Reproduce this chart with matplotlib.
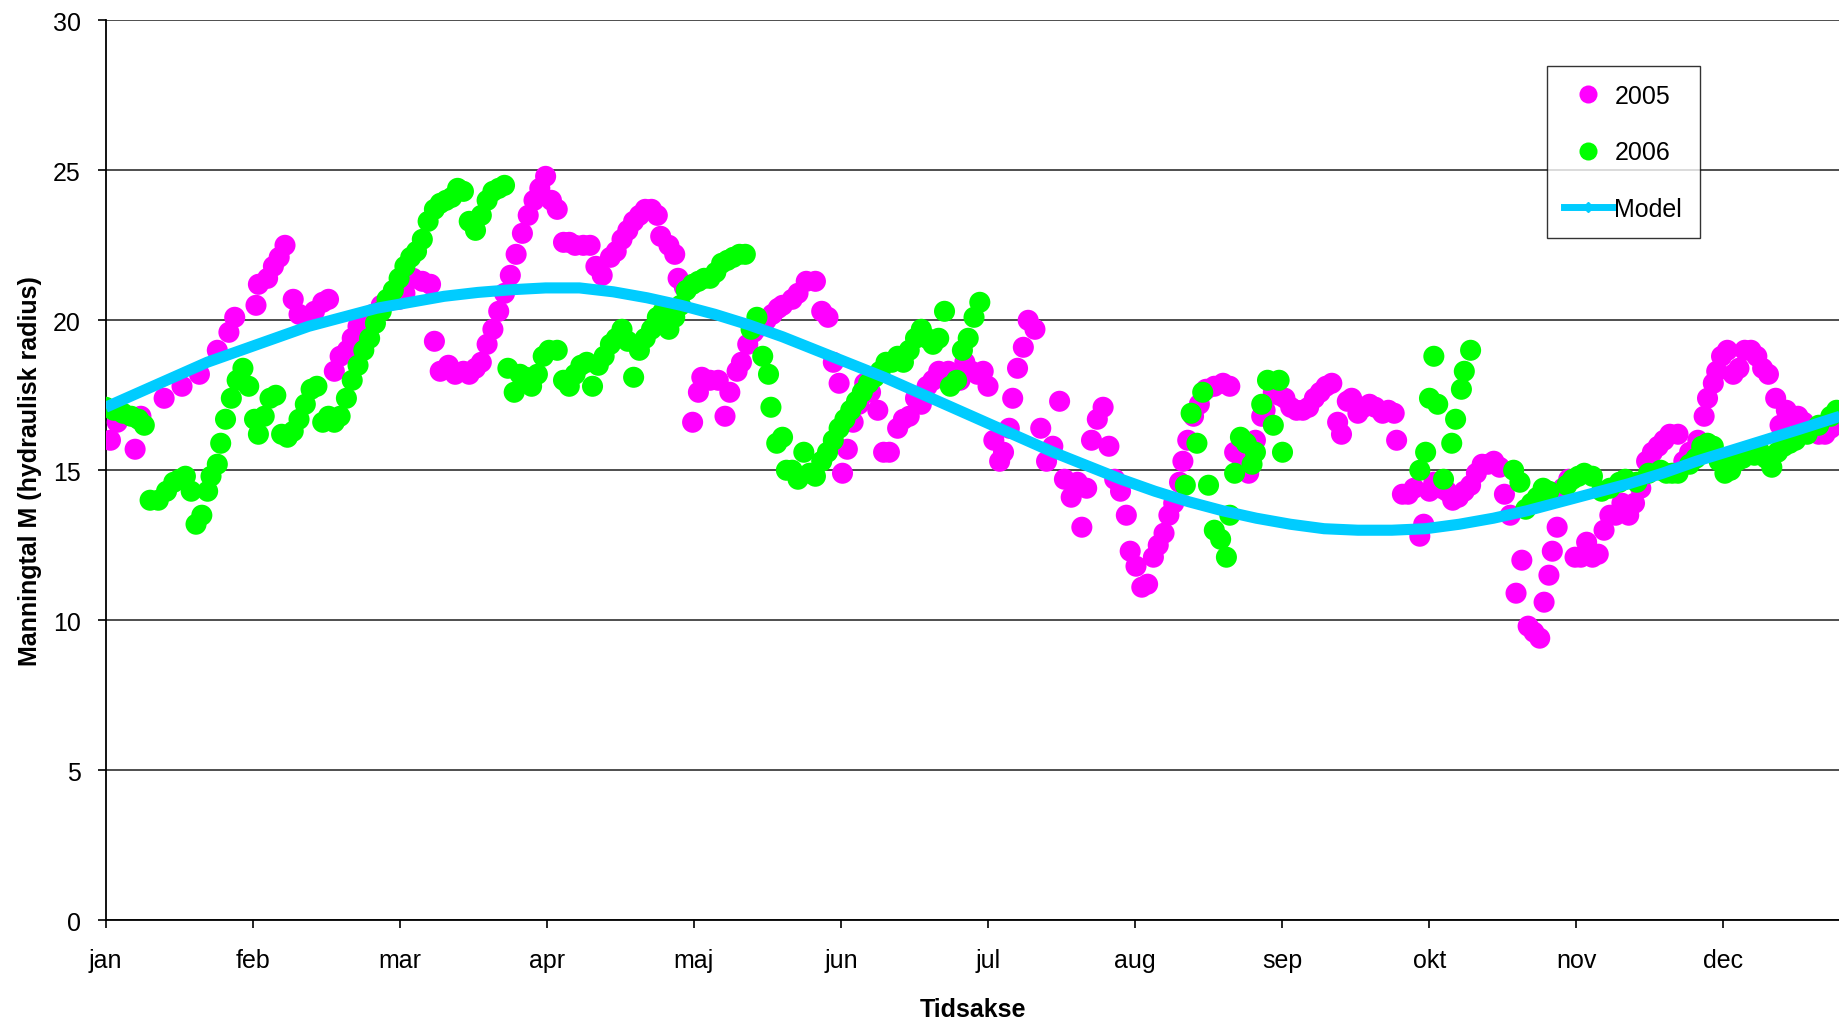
import numpy as np
import matplotlib
matplotlib.use("Agg")
import matplotlib.pyplot as plt
from matplotlib.lines import Line2D

plt.rcParams['font.family'] = ['Liberation Sans', 'DejaVu Sans']

# month labels (Danish)
months = ["jan", "feb", "mar", "apr", "maj", "jun", "jul", "aug", "sep", "okt", "nov", "dec"]

# 2005 observations: day of year, Manning number
day_2005 = [1, 2.4, 6.1, 7.3, 12.1, 15.8, 19.4, 23.1, 25.5, 26.7, 31.1, 31.6, 33.5, 34.7, 35.9, 37.1,
            38.8, 40.0, 41.7, 43.2, 44.9, 46.1, 47.3, 48.5, 50.0, 51.0, 52.2, 53.4, 55.3, 57.0, 58.7,
            60.7, 61.9, 63.6, 65.5, 67.2, 68.0, 69.2, 70.9, 72.3, 74.0, 75.2, 76.5, 77.7, 78.9, 80.1,
            81.3, 82.5, 83.7, 84.9, 86.2, 87.4, 88.6, 89.8, 91.0, 92.2, 93.4, 94.7, 95.9, 97.1, 98.8,
            100.2, 101.4, 102.7, 104.4, 105.6, 106.8, 108.0, 109.2, 110.4, 111.6, 112.9, 114.1, 114.8,
            116.5, 117.7, 118.4, 119.7, 121.4, 122.6, 123.3, 125.0, 126.7, 128.1, 129.1, 130.6, 131.5,
            132.8, 134.0, 135.4, 136.6, 137.9, 139.1, 140.0, 142.0, 143.2, 144.9, 146.8, 148.1, 149.4,
            150.5, 151.7, 152.4, 153.4, 154.6, 155.8, 157.0, 158.2, 159.7, 160.9, 162.1, 163.8, 165.0,
            166.2, 167.5, 168.7, 169.9, 171.1, 172.3, 174.3, 175.2, 176.7, 177.7, 179.1, 180.3, 181.5,
            182.5, 183.7, 184.9, 185.7, 186.9, 187.6, 188.6, 189.8, 190.8, 192.2, 193.4, 194.6, 195.9,
            197.3, 198.3, 199.7, 201.0, 201.9, 202.9, 203.9, 205.1, 206.3, 207.5, 208.7, 209.9, 211.1,
            211.9, 213.1, 214.3, 215.5, 216.7, 217.7, 218.9, 219.9, 220.9, 222.1, 222.8, 223.8, 225.0,
            226.2, 227.6, 229.3, 231.1, 232.5, 233.5, 234.9, 236.4, 237.8, 239.1, 239.8, 241.5, 242.7,
            243.9, 245.1, 246.3, 247.6, 248.8, 250.0, 251.2, 252.4, 253.6, 254.8, 255.6, 256.8, 257.7,
            259.0, 260.2, 261.4, 262.6, 264.1, 265.3, 266.5, 267.0, 268.2, 269.4, 270.6, 271.8, 272.6,
            273.8, 274.7, 276.2, 277.4, 278.6, 279.8, 281.0, 282.3, 283.5, 284.7, 285.9, 287.1, 288.3,
            289.3, 290.5, 291.7, 292.9, 294.2, 295.4, 296.6, 297.5, 298.5, 299.2, 300.2, 301.4, 302.6,
            303.9, 305.1, 306.3, 307.5, 308.7, 309.9, 311.1, 312.3, 313.6, 315.0, 316.2, 317.5, 318.7,
            319.9, 321.1, 322.3, 323.5, 325.2, 326.4, 327.6, 329.3, 330.6, 331.3, 332.5, 333.2, 334.2,
            335.4, 336.6, 337.8, 339.0, 340.3, 341.5, 342.7, 343.9, 345.4, 346.3, 347.6, 348.8, 350.0,
            351.2, 353.2, 354.3, 355.6, 356.8, 358.0]
m_2005 = [16.0, 16.6, 15.7, 16.8, 17.4, 17.8, 18.2, 19.0, 19.6, 20.1, 20.5, 21.2, 21.4, 21.8, 22.1, 22.5,
          20.7, 20.2, 20.0, 20.3, 20.6, 20.7, 18.3, 18.8, 19.0, 19.4, 19.8, 20.0, 20.2, 20.5, 20.7,
          20.7, 20.9, 21.4, 21.3, 21.2, 19.3, 18.3, 18.5, 18.2, 18.3, 18.2, 18.4, 18.6, 19.2, 19.7,
          20.3, 20.9, 21.5, 22.2, 22.9, 23.5, 24.0, 24.4, 24.8, 24.0, 23.7, 22.6, 22.6, 22.5, 22.5,
          22.5, 21.8, 21.5, 22.1, 22.3, 22.7, 23.0, 23.3, 23.5, 23.7, 23.7, 23.5, 22.8,
          22.5, 22.2, 21.4, 21.1, 16.6, 17.6, 18.1, 18.0, 18.0, 16.8, 17.6, 18.3, 18.6,
          19.2, 19.6, 19.8, 20.0, 20.2, 20.4, 20.5, 20.7, 20.9, 21.3, 21.3, 20.3, 20.1,
          18.6, 17.9, 14.9, 15.7, 16.6, 17.2, 17.9, 17.6, 17.0, 15.6, 15.6, 16.4, 16.7,
          16.8, 17.4, 17.2, 17.8, 18.0, 18.3, 18.3, 18.2, 18.0, 18.6, 18.3, 18.2, 18.3,
          17.8, 16.0, 15.3, 15.6, 16.4, 17.4, 18.4, 19.1, 20.0, 19.7, 16.4, 15.3, 15.8,
          17.3, 14.7, 14.1, 14.6, 13.1, 14.4, 16.0, 16.7, 17.1, 15.8, 14.7, 14.3, 13.5,
          12.3, 11.8, 11.1, 11.2, 12.1, 12.5, 12.9, 13.5, 13.9, 14.6, 15.3, 16.0, 16.8,
          17.2, 17.7, 17.8, 17.9, 17.8, 15.6, 15.4, 14.9, 16.0, 16.8, 17.0, 17.6, 17.5,
          17.4, 17.1, 17.0, 17.0, 17.1, 17.4, 17.6, 17.8, 17.9, 16.6, 16.2, 17.3, 17.4,
          16.9, 17.1, 17.2, 17.1, 16.9, 17.0, 16.9, 16.0, 14.2, 14.2, 14.4, 12.8, 13.2,
          14.3, 14.6, 14.4, 14.3, 14.0, 14.1, 14.3, 14.5, 14.9, 15.2, 15.2, 15.3, 15.1,
          14.2, 13.5, 10.9, 12.0, 9.8, 9.6, 9.4, 10.6, 11.5, 12.3, 13.1, 14.4, 14.7,
          12.1, 12.1, 12.6, 12.1, 12.2, 13.0, 13.5, 13.5, 13.9, 13.5, 13.9, 14.4, 15.3,
          15.6, 15.8, 16.0, 16.2, 16.2, 15.3, 15.6, 16.0, 16.8, 17.4, 17.9, 18.3, 18.8,
          19.0, 18.2, 18.4, 19.0, 19.0, 18.8, 18.4, 18.2, 17.4, 16.5, 17.0, 16.8, 16.8,
          16.6, 16.4, 16.2, 16.2, 16.4, 16.7]

# 2006 observations
day_2006 = [0.0, 1.7, 3.6, 5.3, 6.8, 8.0, 9.2, 10.9, 12.6, 14.1, 15.3, 16.5, 17.7, 18.7, 19.9, 21.1,
            21.8, 23.1, 23.8, 24.8, 26.0, 27.2, 28.4, 29.6, 30.8, 31.6, 32.8, 34.0, 35.2, 36.4, 37.6,
            38.8, 40.0, 41.3, 42.5, 43.7, 44.9, 46.1, 47.3, 48.5, 49.8, 51.0, 52.2, 53.4, 54.6, 55.8,
            57.0, 58.2, 59.5, 60.7, 61.9, 63.1, 64.3, 65.5, 66.7, 68.0, 69.2, 70.4, 71.6, 72.8, 74.0,
            75.2, 76.5, 77.7, 78.9, 80.1, 81.3, 82.5, 83.2, 84.5, 85.7, 86.9, 88.1, 89.3, 90.5, 91.7,
            93.4, 94.7, 95.9, 97.1, 98.3, 99.5, 100.7, 101.9, 103.1, 104.4, 105.6, 106.8, 108.0, 109.2,
            110.4, 111.6, 112.9, 114.1, 115.3, 116.5, 117.7, 118.9, 120.1, 121.4, 122.6, 123.8, 125.0,
            126.2, 127.4, 128.6, 129.8, 131.1, 132.3, 133.5, 134.7, 135.9, 137.1, 137.6, 138.8, 140.0,
            140.8, 142.0, 143.2, 144.4, 145.6, 146.8, 148.1, 149.3, 150.5, 151.7, 152.9, 154.1, 155.3,
            156.5, 157.8, 159.0, 160.2, 161.4, 162.6, 163.8, 165.0, 166.2, 167.5, 168.7, 169.9, 171.1,
            172.3, 173.5, 174.7, 176.0, 177.2, 178.4, 179.6, 180.8,
            223.3, 224.5, 225.7, 226.9, 228.1, 229.3, 230.6, 231.8, 232.5, 233.5, 234.7, 235.9, 237.1,
            237.8, 239.1, 240.3, 241.5, 242.7, 243.4,
            271.8, 273.0, 273.8, 274.7, 275.5, 276.7, 278.4, 279.2, 280.4, 281.0, 282.3,
            291.2, 292.5, 293.7, 294.9, 296.1, 297.3, 298.5, 302.2, 303.4, 304.6, 305.8, 307.5, 309.4,
            311.1, 313.1, 314.3, 316.7, 319.1, 321.6, 322.8, 324.0, 325.2, 327.6, 328.9, 330.1, 331.3,
            332.5, 333.7, 334.9, 336.1, 337.4, 338.6, 339.8, 341.0, 342.2, 343.4, 344.6, 345.8, 347.1,
            348.3, 349.5, 351.9, 354.3, 356.8, 358.0]
m_2006 = [17.1, 17.0, 16.9, 16.8, 16.7, 16.5, 14.0, 14.0, 14.3, 14.6, 14.7, 14.8, 14.3, 13.2, 13.5, 14.3,
          14.8, 15.2, 15.9, 16.7, 17.4, 18.0, 18.4, 17.8, 16.7, 16.2, 16.8, 17.4, 17.5, 16.2, 16.1,
          16.3, 16.7, 17.2, 17.7, 17.8, 16.6, 16.8, 16.6, 16.8, 17.4, 18.0, 18.5, 19.0, 19.4, 19.9,
          20.3, 20.7, 21.0, 21.4, 21.8, 22.1, 22.3, 22.7, 23.3, 23.7, 23.9, 24.0, 24.1, 24.4, 24.3,
          23.3, 23.0, 23.5, 24.0, 24.3, 24.4, 24.5, 18.4, 17.6, 18.2, 18.1, 17.8, 18.2, 18.8, 19.0,
          19.0, 18.0, 17.8, 18.2, 18.5, 18.6, 17.8, 18.5, 18.8, 19.2, 19.4, 19.7, 19.3, 18.1,
          19.0, 19.4, 19.7, 20.1, 20.3, 19.7, 20.1, 20.5, 21.0, 21.2, 21.3, 21.4, 21.4,
          21.6, 21.9, 22.0, 22.1, 22.2, 22.2, 19.7, 20.1, 18.8, 18.2, 17.1, 15.9, 16.1,
          15.0, 15.0, 14.7, 15.6, 14.9, 14.8, 15.3, 15.6, 16.0, 16.4, 16.7, 17.0, 17.3,
          17.6, 17.9, 18.1, 18.3, 18.6, 18.6, 18.8, 18.6, 19.0, 19.4, 19.7, 19.4, 19.2,
          19.4, 20.3, 17.8, 18.0, 19.0, 19.4, 20.1, 20.6,
          14.5, 16.9, 15.9, 17.6, 14.5, 13.0, 12.7, 12.1, 13.5, 14.9, 16.1, 15.9, 15.2,
          15.6, 17.2, 18.0, 16.5, 18.0, 15.6,
          15.0, 15.6, 17.4, 18.8, 17.2, 14.7, 15.9, 16.7, 17.7, 18.3, 19.0,
          15.0, 14.6, 13.7, 13.9, 14.1, 14.4, 14.3, 14.5, 14.7, 14.8, 14.9, 14.8, 14.3,
          14.4, 14.6, 14.7, 14.6, 14.9, 15.0, 14.9, 14.9, 14.9, 15.2, 15.4, 15.8, 15.9,
          15.8, 15.3, 14.9, 15.0, 15.3, 15.4, 15.6, 15.5, 15.6, 15.4, 15.1, 15.6, 15.8,
          15.9, 16.0, 16.2, 16.5, 16.8, 17.0]

# model curve, read weekly
day_model = [0, 7, 14, 21, 28, 35, 42, 49, 56, 63, 70, 77, 84, 91, 98, 105, 112, 119, 126, 133,
             140, 147, 154, 161, 168, 175, 182, 189, 196, 203, 210, 217, 224, 231, 238, 245, 252,
             259, 266, 273, 280, 287, 294, 301, 308, 315, 322, 329, 336, 343, 350, 358.7]
m_model = [17.1, 17.6, 18.1, 18.6, 19.0, 19.4, 19.8, 20.1, 20.4, 20.6, 20.8, 20.93, 21.02, 21.08,
           21.08, 20.95, 20.75, 20.5, 20.2, 19.85, 19.45, 19.0, 18.55, 18.1, 17.6, 17.1, 16.6, 16.1,
           15.6, 15.15, 14.7, 14.3, 13.95, 13.65, 13.4, 13.2, 13.05, 13.0, 13.0, 13.05, 13.2, 13.4,
           13.65, 13.95, 14.25, 14.55, 14.9, 15.3, 15.65, 16.0, 16.35, 16.8]

c05 = "#ff00ff"
c06 = "#00ff00"
cmod = "#00ccff"

fig = plt.figure(figsize=(18.4, 10.2), dpi=100)
ax = fig.add_axes([0.0574, 0.097, 0.9426, 0.882])

ax.scatter(day_2005, m_2005, s=230, color=c05, edgecolors="none", zorder=3)
ax.scatter(day_2006, m_2006, s=230, color=c06, edgecolors="none", zorder=4)
ax.plot(day_model, m_model, color=cmod, lw=8, solid_capstyle="butt", zorder=5)

ax.set_xlim(0, 358.7)
ax.set_ylim(0, 30)
ax.set_yticks(range(0, 31, 5))
ax.set_xticks([i * 365 / 12 for i in range(12)])
ax.set_xticklabels(months)
ax.tick_params(axis="both", labelsize=18, direction="out", length=6, width=1.2, colors="black")
ax.tick_params(axis="x", pad=14)
ax.tick_params(axis="y", pad=12)
ax.grid(axis="y", color="#303030", lw=1.2)
ax.set_axisbelow(True)
for side in ["top", "right"]:
    ax.spines[side].set_visible(False)
for side in ["left", "bottom"]:
    ax.spines[side].set_linewidth(1.3)

ax.set_xlabel("Tidsakse", fontsize=18, fontweight="bold", labelpad=18)
ax.set_ylabel("Manningtal M (hydraulisk radius)", fontsize=18, fontweight="bold", labelpad=8)

handles = [Line2D([], [], ls="none", marker="o", ms=13, color=c05, mec="none"),
           Line2D([], [], ls="none", marker="o", ms=13, color=c06, mec="none"),
           Line2D([], [], color=cmod, lw=5, marker="D", ms=5)]
leg = ax.legend(handles, ["2005", "2006", "Model"], loc="upper left",
                bbox_to_anchor=(0.831, 0.949), fontsize=18, frameon=True, fancybox=False,
                edgecolor="black", handlelength=1.9, handletextpad=0.1, labelspacing=1.3,
                borderpad=0.7, borderaxespad=0)
leg.get_frame().set_linewidth(1.0)

fig.savefig("out.png", dpi=100)
